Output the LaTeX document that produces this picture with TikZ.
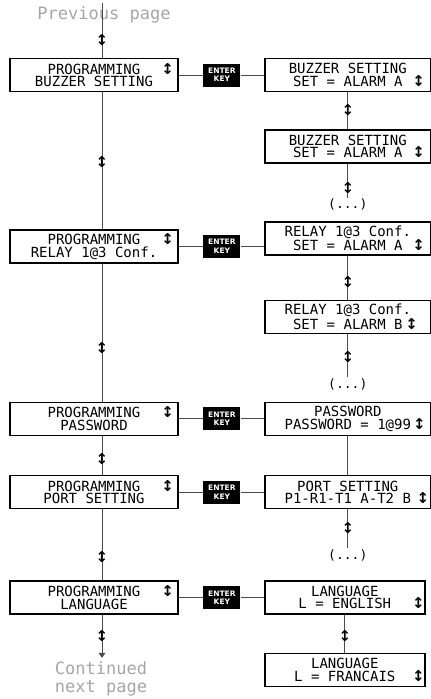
\documentclass[tikz,border=0pt]{standalone}
\usepackage{fontspec}
\newfontfamily\lcdfont{DejaVu Sans Mono}
\newfontfamily\keyfont{DejaVu Sans}
\usetikzlibrary{arrows.meta,positioning}

\newcommand{\updn}{{\keyfont\bfseries\fontsize{15}{15}\selectfont ↕}}
\newcommand{\updnat}[1]{\rlap{\hspace{#1}\updn}}

\begin{document}
\begin{tikzpicture}[
        x=1pt, y=-1pt,
        node distance=24pt and 24pt,
        lcd/.style={draw, line width=1.4pt, align=center, minimum width=168pt, minimum height=33pt, inner sep=2pt, font=\lcdfont\fontsize{14}{12.5}\selectfont},
        rlcd/.style={lcd, minimum width=166pt},
        key/.style={fill=black, text=white, minimum width=37pt, minimum height=23pt, inner sep=0pt, align=center, font=\keyfont\bfseries\fontsize{7.5}{8.5}\selectfont},
        link/.style={draw=black!70, line width=0.8pt},
        sym/.style={inner sep=0pt},
        dots/.style={inner sep=1pt, font=\lcdfont\fontsize{13}{13}\selectfont},
        note/.style={text=black!35, align=center, font=\lcdfont\fontsize{17}{18.5}\selectfont},
    ]
        \useasboundingbox (0,0) rectangle (431,699);

        % main menu
        \node[note] (prev) at (104,15) {Previous page};
        \node[lcd] (pbuz) at (94,75) {PROGRAMMING\updnat{1.5em}\\BUZZER SETTING};
        \node[lcd, below=137pt of pbuz] (prel) {PROGRAMMING\updnat{1.5em}\\RELAY 1@3 Conf.};
        \node[lcd, below=138pt of prel] (ppass) {PROGRAMMING\updnat{1.5em}\\PASSWORD};
        \node[lcd, below=39pt of ppass] (pport) {PROGRAMMING\updnat{1.5em}\\PORT SETTING};
        \node[lcd, below=71pt of pport] (plang) {PROGRAMMING\updnat{1.5em}\\LANGUAGE};
        \node[note, below=43pt of plang, xshift=7pt] (cont) {Continued\\next page};

        % enter keys
        \node[key, right=24.5pt of pbuz] (kbuz) {ENTER\\KEY};
        \node[key, right=24.5pt of prel] (krel) {ENTER\\KEY};
        \node[key, right=24.5pt of ppass] (kpass) {ENTER\\KEY};
        \node[key, right=24.5pt of pport] (kport) {ENTER\\KEY};
        \node[key, right=24.5pt of plang] (klang) {ENTER\\KEY};

        % sub menus
        \node[rlcd, right=23.5pt of kbuz] (rbuz1) {BUZZER SETTING\\SET = ALARM A\updnat{0.7em}};
        \node[rlcd, below=37pt of rbuz1] (rbuz2) {BUZZER SETTING\\SET = ALARM A\updnat{0.7em}};
        \node[dots, below=34pt of rbuz2] (dbuz) {(...)};
        \node[rlcd, right=23.5pt of krel, yshift=8pt] (rrel1) {RELAY 1@3 Conf.\\SET = ALARM A\updnat{0.7em}};
        \node[rlcd, below=44pt of rrel1] (rrel2) {RELAY 1@3 Conf.\\SET = ALARM B\updnat{0.2em}};
        \node[dots, below=43pt of rrel2] (drel) {(...)};
        \node[rlcd, right=23.5pt of kpass] (rpass) {PASSWORD\\PASSWORD = 1@99\updnat{0.15em}};
        \node[rlcd, right=23.5pt of kport] (rport) {PORT SETTING\\P1-R1-T1 A-T2 B\updnat{0.4em}};
        \node[dots, below=39pt of rport] (dport) {(...)};
        \node[rlcd, minimum width=160pt, right=23.5pt of klang] (rlang1) {LANGUAGE\\L = ENGLISH\updnat{1.5em}};
        \node[rlcd, minimum width=160pt, below=38pt of rlang1] (rlang2) {LANGUAGE\\L = FRANCAIS\updnat{1.2em}};

        % main line
        \draw[link] ([xshift=-2pt]prev.north) -- node[sym, pos=0.67] (s1) {\updn} ([xshift=8pt]pbuz.north);
        \draw[link] ([xshift=8pt]pbuz.south) -- node[sym, pos=0.51] (s2) {\updn} ([xshift=8pt]prel.north);
        \draw[link] ([xshift=8pt]prel.south) -- node[sym, pos=0.61] (s3) {\updn} ([xshift=8pt]ppass.north);
        \draw[link] ([xshift=8pt]ppass.south) -- node[sym, pos=0.58] (s4) {\updn} ([xshift=8pt]pport.north);
        \draw[link] ([xshift=8pt]pport.south) -- node[sym, pos=0.67] (s5) {\updn} ([xshift=8pt]plang.north);
        \draw[link, -{Triangle[width=7pt,length=5pt]}] ([xshift=8pt]plang.south) -- node[sym, pos=0.5] (s6) {\updn} ([xshift=1pt]cont.north);

        % enter links
        \draw[link] (pbuz) -- (kbuz) -- (rbuz1);
        \draw[link] (prel) -- (krel) -- (krel -| rrel1.west);
        \draw[link] (ppass) -- (kpass) -- (rpass);
        \draw[link] (pport) -- (kport) -- (rport);
        \draw[link] (plang) -- (klang) -- (rlang1);

        % sub menu lines
        \draw[link] (rbuz1) -- node[sym, pos=0.47] (t1) {\updn} (rbuz2);
        \draw[link] (rbuz2) -- node[sym, pos=0.72] (t2) {\updn} (dbuz);
        \draw[link] (rrel1) -- node[sym, pos=0.6] (t3) {\updn} (rrel2);
        \draw[link] (rrel2) -- node[sym, pos=0.54] (t4) {\updn} (drel);
        \draw[link] (rpass) -- (rport);
        \draw[link] (rport) -- node[sym, pos=0.49] (t5) {\updn} (dport);
        \draw[link] (rlang1) -- node[sym, pos=0.57] (t6) {\updn} (rlang2);
    \end{tikzpicture}
\end{document}
